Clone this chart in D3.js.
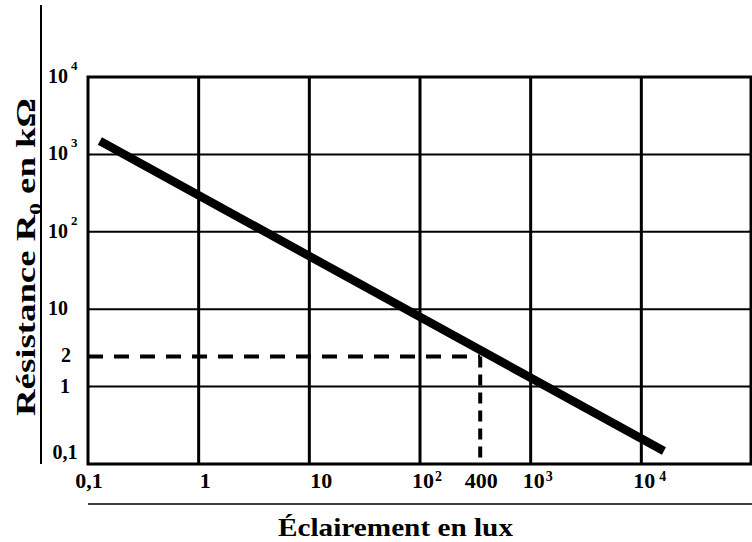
<!DOCTYPE html>
<html>
<head>
<meta charset="utf-8">
<script src="https://cdn.jsdelivr.net/npm/d3@7"></script>
<style>
  body { margin: 0; background: #fff; }
  text { font-family: "Liberation Serif", "Times New Roman", serif; font-weight: bold; fill: #000; }
</style>
</head>
<body>
<div id="chart"></div>
<script>
// Data
var luxTicks = [0.1, 1, 10, 100, 1000, 10000];
var luxBase = ["0,1", "1", "10", "10", "10", "10"];
var luxSup = ["", "", "", "2", "3", "4"];

var resTicks = [0.1, 1, 10, 100, 1000, 10000];
var resBase = ["0,1", "1", "10", "10", "10", "10"];
var resSup = ["", "", "", "2", "3", "4"];

// the thick line (two ends)
var curveLux = [0.128, 16000];
var curveRes = [1490, 0.147];

// dashed reading point
var markLux = 350, markLuxLabel = "400";
var markRes = 2.44, markResLabel = "2";

var width = 752, height = 542;

var svg = d3.select("#chart")
  .append("svg")
  .attr("width", width)
  .attr("height", height);

var x = d3.scaleLog()
  .domain([0.1, 1e5])
  .range([88, 752]);

var y = d3.scaleLog()
  .domain([0.1, 1e4])
  .range([464, 77]);

// horizontal grid
svg.selectAll(".hgrid")
  .data(resTicks.slice(1, 5))
  .enter()
  .append("line")
  .attr("x1", x(0.1)).attr("x2", x(1e5))
  .attr("y1", d => y(d)).attr("y2", d => y(d))
  .attr("stroke", "#000")
  .attr("stroke-width", 2);

// vertical grid
svg.selectAll(".vgrid")
  .data(luxTicks.slice(1))
  .enter()
  .append("line")
  .attr("x1", d => x(d)).attr("x2", d => x(d))
  .attr("y1", y(1e4)).attr("y2", y(0.1))
  .attr("stroke", "#000")
  .attr("stroke-width", 3);

// frame
svg.append("rect")
  .attr("x", x(0.1))
  .attr("y", y(1e4))
  .attr("width", x(1e5) - 1 - x(0.1))
  .attr("height", y(0.1) - y(1e4))
  .attr("fill", "none")
  .attr("stroke", "#000")
  .attr("stroke-width", 3);

// outer left line + line under the x labels
svg.append("line")
  .attr("x1", 41).attr("x2", 41)
  .attr("y1", 5).attr("y2", y(0.1))
  .attr("stroke", "#000")
  .attr("stroke-width", 2);

svg.append("line")
  .attr("x1", x(0.1)).attr("x2", width)
  .attr("y1", 504).attr("y2", 504)
  .attr("stroke", "#000")
  .attr("stroke-width", 1.5);

// dashed reading lines
svg.append("line")
  .attr("x1", x(0.1)).attr("x2", x(markLux))
  .attr("y1", y(markRes)).attr("y2", y(markRes))
  .attr("stroke", "#000")
  .attr("stroke-width", 4)
  .attr("stroke-dasharray", "15,11");

svg.append("line")
  .attr("x1", x(markLux)).attr("x2", x(markLux))
  .attr("y1", y(markRes)).attr("y2", y(0.1))
  .attr("stroke", "#000")
  .attr("stroke-width", 4)
  .attr("stroke-dasharray", "11,7");

// main line
var line = d3.line()
  .x(d => x(d[0]))
  .y(d => y(d[1]));

svg.append("path")
  .datum(d3.zip(curveLux, curveRes))
  .attr("d", line)
  .attr("fill", "none")
  .attr("stroke", "#000")
  .attr("stroke-width", 8.5)
  .attr("stroke-linecap", "butt");

// y labels
var yLab = svg.selectAll(".ylab")
  .data(d3.range(resTicks.length))
  .enter()
  .append("text")
  .attr("font-size", 20)
  .attr("x", i => resBase[i] == "10" ? 48 : 65)
  .attr("y", i => resTicks[i] < 1 ? y(resTicks[i]) - 5 : y(resTicks[i]) + 6)
  .attr("text-anchor", i => resBase[i] == "10" ? "start" : "middle");

yLab.append("tspan").text(i => resBase[i]);
yLab.append("tspan")
  .attr("font-size", 13)
  .attr("dx", 3)
  .attr("dy", -13)
  .text(i => resSup[i]);

svg.append("text")
  .attr("font-size", 20)
  .attr("x", 66)
  .attr("y", y(markRes) + 5)
  .attr("text-anchor", "middle")
  .text(markResLabel);

// x labels
var xLab = svg.selectAll(".xlab")
  .data(d3.range(luxTicks.length))
  .enter()
  .append("text")
  .attr("font-size", 22)
  .attr("y", 488)
  .attr("x", function(i) {
    if (luxTicks[i] < 1) return x(luxTicks[i]) + 1;
    if (luxSup[i] != "") return x(luxTicks[i]) - 8;
    return x(luxTicks[i]) + 1;
  })
  .attr("text-anchor", i => luxTicks[i] < 1 ? "middle" : "start");

xLab.append("tspan").text(i => luxBase[i]);
xLab.append("tspan")
  .attr("font-size", 14)
  .attr("dx", i => luxSup[i] == "4" ? 4 : 1)
  .attr("dy", -7)
  .text(i => luxSup[i]);

svg.append("text")
  .attr("font-size", 22)
  .attr("x", x(markLux) + 1)
  .attr("y", 488)
  .attr("text-anchor", "middle")
  .text(markLuxLabel);

// titles
svg.append("text")
  .attr("font-size", 25)
  .attr("x", 278)
  .attr("y", 536)
  .attr("textLength", 235)
  .attr("lengthAdjust", "spacingAndGlyphs")
  .text("Éclairement en lux");

var yTitle = svg.append("text")
  .attr("font-size", 27)
  .attr("text-anchor", "middle")
  .attr("transform", "translate(35,257) rotate(-90)")
  .attr("textLength", 318)
  .attr("lengthAdjust", "spacingAndGlyphs");

yTitle.append("tspan").text("Résistance R");
yTitle.append("tspan").attr("font-size", 17).attr("dy", 6).text("0");
yTitle.append("tspan").attr("dy", -6).text(" en kΩ");
</script>
</body>
</html>
